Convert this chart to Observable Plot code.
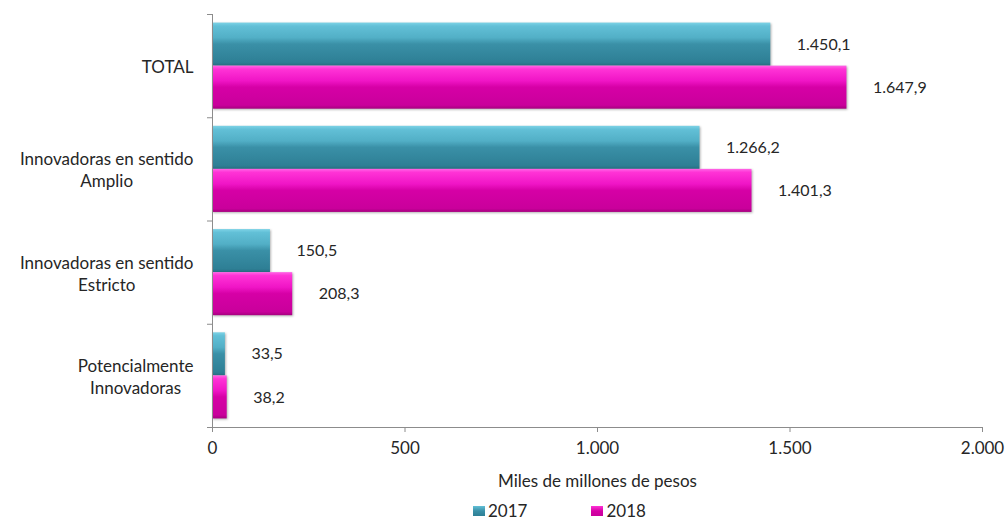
<!DOCTYPE html>
<html><head><meta charset="utf-8">
<script src="https://cdn.jsdelivr.net/npm/d3@7"></script>
<script src="https://cdn.jsdelivr.net/npm/@observablehq/plot@0.6"></script>
<style>
body{margin:0;background:#fff;font-family:Lato,"Open Sans",sans-serif;color:#262626;position:relative;width:1007px;height:521px;overflow:hidden}
#legend{position:absolute;left:473px;top:502px;display:flex;align-items:center;height:18px;line-height:18px;font-size:17px}
.item{display:flex;align-items:center;margin-right:64px}
.sw{width:12px;height:10px;margin-right:3px}
</style></head><body><div id="chart"></div><div id="legend"></div>
<script>
const categories = ["TOTAL", "Innovadoras en sentido\nAmplio", "Innovadoras en sentido\nEstricto", "Potencialmente\nInnovadoras"];
const years = ["2017", "2018"];
const values2017 = [1450.1, 1266.2, 150.5, 33.5];
const values2018 = [1647.9, 1401.3, 208.3, 38.2];
const xTicks = [0, 500, 1000, 1500, 2000];
const xLabel = "Miles de millones de pesos";

const es = d3.formatLocale({decimal: ",", thousands: ".", grouping: [3], currency: ["$", ""]});
const fmtVal = es.format(",.1f");
const fmtTick = es.format(",d");

const pad = 0.083, half = (1 - 2 * pad) / 2;
const rows = [];
categories.forEach((c, i) => {
  [values2017, values2018].forEach((arr, j) => {
    rows.push({cat: c, year: years[j], value: arr[i], y1: i + pad + j * half, y2: i + pad + (j + 1) * half});
  });
});

const FONT = "Lato, sans-serif";
const canvas = document.createElement("canvas");
const ctx = canvas.getContext("2d");
ctx.font = "17px Lato";
const labelMarks = categories.map((c, i) => {
  const w = Math.max(...c.split("\n").map(s => ctx.measureText(s).width));
  return Plot.text([{c, y: i + 0.5}], {x: 0, y: "y", text: "c", textAnchor: "middle", dx: -(19 + w / 2), lineHeight: 1.3, fontSize: 17, fill: "#262626"});
});

const plot = Plot.plot({
  width: 1007, height: 492,
  marginLeft: 212, marginRight: 25, marginTop: 14, marginBottom: 65,
  style: {fontFamily: FONT, fontSize: "17px", color: "#262626", background: "#fff"},
  x: {domain: [0, 2000]},
  y: {domain: [0, 4], reverse: true},
  marks: [
    Plot.rectX(rows.filter(d => d.year === "2017"), {x1: 0, x2: "value", y1: "y1", y2: "y2", fill: "url(#g2017)", className: "bar"}),
    Plot.rectX(rows.filter(d => d.year === "2018"), {x1: 0, x2: "value", y1: "y1", y2: "y2", fill: "url(#g2018)", className: "bar"}),
    Plot.ruleX([0], {stroke: "#8c8c8c"}),
    Plot.ruleY([4], {stroke: "#8c8c8c"}),
    Plot.axisY({ticks: [0, 1, 2, 3, 4], tickSize: 5, tickFormat: () => "", label: null, stroke: "#8c8c8c"}),
    Plot.axisX({ticks: xTicks, tickFormat: fmtTick, tickSize: 5, tickPadding: 9, stroke: "#8c8c8c", fill: "#262626", fontSize: 17,
      label: xLabel, labelAnchor: "center", labelArrow: "none", labelOffset: 59}),
    Plot.text(rows, {x: "value", y: d => (d.y1 + d.y2) / 2, text: d => fmtVal(d.value), textAnchor: "start", dx: 26, fontSize: 16, fill: "#262626"}),
    ...labelMarks
  ]
});

const svg = d3.select(plot);
const defs = svg.insert("defs", ":first-child");
function grad(id, stops) {
  const g = defs.append("linearGradient").attr("id", id).attr("x1", 0).attr("y1", 0).attr("x2", 0).attr("y2", 1);
  stops.forEach(([o, c]) => g.append("stop").attr("offset", o).attr("stop-color", c));
}
grad("g2017", [[0, "#7dd3e6"], [0.08, "#62c0d7"], [0.35, "#52afc6"], [0.5, "#3a90a7"], [0.92, "#2e7f95"], [1, "#276f83"]]);
grad("g2018", [[0, "#ff66e6"], [0.08, "#ff33d6"], [0.35, "#f015c6"], [0.5, "#d600a6"], [0.92, "#c9009b"], [1, "#a6007f"]]);
svg.selectAll(".bar").style("filter", "drop-shadow(1px 1px 1px rgba(0,0,0,0.3))");

document.getElementById("chart").appendChild(plot);

const legend = document.getElementById("legend");
const swatch = {"2017": "linear-gradient(#62c0d7, #3a90a7 50%, #2e7f95)", "2018": "linear-gradient(#ff33d6, #d600a6 50%, #c9009b)"};
years.forEach(y => {
  const it = document.createElement("div"); it.className = "item";
  const s = document.createElement("div"); s.className = "sw"; s.style.background = swatch[y];
  const t = document.createElement("span"); t.textContent = y;
  it.appendChild(s); it.appendChild(t); legend.appendChild(it);
});
</script></body></html>
